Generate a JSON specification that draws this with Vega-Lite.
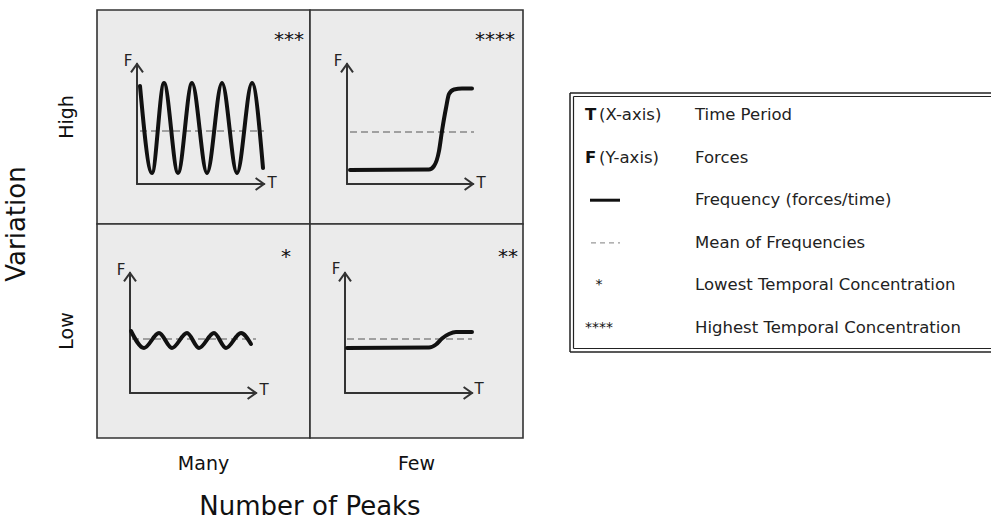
{
  "$schema": "https://vega.github.io/schema/vega-lite/v6.json",
  "padding": {"left": 4, "top": 9, "right": 0, "bottom": 0},
  "background": "white",
  "config": {"font": "DejaVu Sans", "view": {"stroke": null}, "text": {"font": "DejaVu Sans"}},
  "datasets": {
    "panels": [
      {"peaks":"Many","variation":"High","kind":"axis","x":40,"y":54,"x2":40,"y2":174},
      {"peaks":"Many","variation":"High","kind":"axis","x":40,"y":174,"x2":167,"y2":174},
      {"peaks":"Many","variation":"High","kind":"tip","x":40,"y":54,"dir":"up"},
      {"peaks":"Many","variation":"High","kind":"tip","x":167,"y":174,"dir":"right"},
      {"peaks":"Many","variation":"High","kind":"label","x":31,"y":51,"text":"F"},
      {"peaks":"Many","variation":"High","kind":"label","x":175,"y":173,"text":"T"},
      {"peaks":"Many","variation":"High","kind":"mean","x":43,"x2":167,"y":121},
      {"peaks":"Many","variation":"High","kind":"stars","x":192,"y":30,"text":"***"},
      {"peaks":"Many","variation":"High","kind":"curve","x":43,"y":76},
      {"peaks":"Many","variation":"High","kind":"curve","x":55,"y":163},
      {"peaks":"Many","variation":"High","kind":"curve","x":67,"y":73},
      {"peaks":"Many","variation":"High","kind":"curve","x":81,"y":163},
      {"peaks":"Many","variation":"High","kind":"curve","x":95,"y":73},
      {"peaks":"Many","variation":"High","kind":"curve","x":110,"y":163},
      {"peaks":"Many","variation":"High","kind":"curve","x":125,"y":73},
      {"peaks":"Many","variation":"High","kind":"curve","x":140,"y":163},
      {"peaks":"Many","variation":"High","kind":"curve","x":155,"y":73},
      {"peaks":"Many","variation":"High","kind":"curve","x":166,"y":158},

      {"peaks":"Few","variation":"High","kind":"axis","x":37,"y":54,"x2":37,"y2":174},
      {"peaks":"Few","variation":"High","kind":"axis","x":37,"y":174,"x2":163,"y2":174},
      {"peaks":"Few","variation":"High","kind":"tip","x":37,"y":54,"dir":"up"},
      {"peaks":"Few","variation":"High","kind":"tip","x":163,"y":174,"dir":"right"},
      {"peaks":"Few","variation":"High","kind":"label","x":28,"y":51,"text":"F"},
      {"peaks":"Few","variation":"High","kind":"label","x":171,"y":173,"text":"T"},
      {"peaks":"Few","variation":"High","kind":"mean","x":40,"x2":164,"y":122},
      {"peaks":"Few","variation":"High","kind":"stars","x":185,"y":30,"text":"****"},
      {"peaks":"Few","variation":"High","kind":"curve","x":40,"y":160},
      {"peaks":"Few","variation":"High","kind":"curve","x":119,"y":159.5},
      {"peaks":"Few","variation":"High","kind":"curve","x":124,"y":156},
      {"peaks":"Few","variation":"High","kind":"curve","x":129,"y":141},
      {"peaks":"Few","variation":"High","kind":"curve","x":132,"y":121},
      {"peaks":"Few","variation":"High","kind":"curve","x":136,"y":98},
      {"peaks":"Few","variation":"High","kind":"curve","x":139,"y":84},
      {"peaks":"Few","variation":"High","kind":"curve","x":144,"y":79.5},
      {"peaks":"Few","variation":"High","kind":"curve","x":152,"y":78.5},
      {"peaks":"Few","variation":"High","kind":"curve","x":162,"y":78.5},

      {"peaks":"Many","variation":"Low","kind":"axis","x":33,"y":49,"x2":33,"y2":169},
      {"peaks":"Many","variation":"Low","kind":"axis","x":33,"y":169,"x2":159,"y2":169},
      {"peaks":"Many","variation":"Low","kind":"tip","x":33,"y":49,"dir":"up"},
      {"peaks":"Many","variation":"Low","kind":"tip","x":159,"y":169,"dir":"right"},
      {"peaks":"Many","variation":"Low","kind":"label","x":24,"y":46,"text":"F"},
      {"peaks":"Many","variation":"Low","kind":"label","x":167,"y":166,"text":"T"},
      {"peaks":"Many","variation":"Low","kind":"mean","x":35,"x2":159,"y":115},
      {"peaks":"Many","variation":"Low","kind":"stars","x":189,"y":33,"text":"*"},
      {"peaks":"Many","variation":"Low","kind":"curve","x":34,"y":107},
      {"peaks":"Many","variation":"Low","kind":"curve","x":47,"y":124},
      {"peaks":"Many","variation":"Low","kind":"curve","x":62,"y":109},
      {"peaks":"Many","variation":"Low","kind":"curve","x":75,"y":124},
      {"peaks":"Many","variation":"Low","kind":"curve","x":90,"y":109},
      {"peaks":"Many","variation":"Low","kind":"curve","x":102,"y":124},
      {"peaks":"Many","variation":"Low","kind":"curve","x":117,"y":109},
      {"peaks":"Many","variation":"Low","kind":"curve","x":129,"y":124},
      {"peaks":"Many","variation":"Low","kind":"curve","x":144,"y":109},
      {"peaks":"Many","variation":"Low","kind":"curve","x":154,"y":120},

      {"peaks":"Few","variation":"Low","kind":"axis","x":35,"y":49,"x2":35,"y2":169},
      {"peaks":"Few","variation":"Low","kind":"axis","x":35,"y":169,"x2":162,"y2":169},
      {"peaks":"Few","variation":"Low","kind":"tip","x":35,"y":49,"dir":"up"},
      {"peaks":"Few","variation":"Low","kind":"tip","x":162,"y":169,"dir":"right"},
      {"peaks":"Few","variation":"Low","kind":"label","x":26,"y":45,"text":"F"},
      {"peaks":"Few","variation":"Low","kind":"label","x":169,"y":165,"text":"T"},
      {"peaks":"Few","variation":"Low","kind":"mean","x":37,"x2":162,"y":115},
      {"peaks":"Few","variation":"Low","kind":"stars","x":198,"y":33,"text":"**"},
      {"peaks":"Few","variation":"Low","kind":"curve","x":37,"y":124},
      {"peaks":"Few","variation":"Low","kind":"curve","x":119,"y":123.5},
      {"peaks":"Few","variation":"Low","kind":"curve","x":126,"y":120.5},
      {"peaks":"Few","variation":"Low","kind":"curve","x":132,"y":114.5},
      {"peaks":"Few","variation":"Low","kind":"curve","x":139,"y":110},
      {"peaks":"Few","variation":"Low","kind":"curve","x":146,"y":108},
      {"peaks":"Few","variation":"Low","kind":"curve","x":162,"y":108}
    ],
    "legend": [
      {"row":0,"key":"T","paren":"(X-axis)","desc":"Time Period"},
      {"row":1,"key":"F","paren":"(Y-axis)","desc":"Forces"},
      {"row":2,"sym":"line","desc":"Frequency (forces/time)"},
      {"row":3,"sym":"dash","desc":"Mean of Frequencies"},
      {"row":4,"sym":"star","star":"*","desc":"Lowest Temporal Concentration"},
      {"row":5,"sym":"star","star":"****","desc":"Highest Temporal Concentration"}
    ]
  },
  "spacing": 44,
  "hconcat": [
    {
      "data": {"name": "panels"},
      "spacing": 0,
      "bounds": "flush",
      "facet": {
        "row": {"field": "variation", "type": "nominal", "sort": ["High", "Low"], "title": "Variation",
          "header": {"labelOrient": "left", "titleOrient": "left", "labelAngle": -90, "labelFontSize": 19, "titleFontSize": 26,
            "titleFontWeight": "normal", "labelPadding": 11, "titlePadding": 17, "labelColor": "#111", "titleColor": "#111",
            "labelFont": "DejaVu Sans", "titleFont": "DejaVu Sans"}},
        "column": {"field": "peaks", "type": "nominal", "sort": ["Many", "Few"], "title": "Number of Peaks",
          "header": {"labelOrient": "bottom", "titleOrient": "bottom", "labelFontSize": 19, "titleFontSize": 26,
            "titleFontWeight": "normal", "labelPadding": 17, "titlePadding": 10, "labelColor": "#111", "titleColor": "#111",
            "labelFont": "DejaVu Sans", "titleFont": "DejaVu Sans"}}
      },
      "spec": {
        "width": 213,
        "height": 214,
        "view": {"fill": "#ebebeb", "stroke": "#333", "strokeWidth": 1.6},
        "encoding": {
          "x": {"field": "x", "type": "quantitative", "scale": {"domain": [0, 213], "nice": false, "zero": false}, "axis": null},
          "y": {"field": "y", "type": "quantitative", "scale": {"domain": [0, 214], "nice": false, "zero": false, "reverse": true}, "axis": null}
        },
        "layer": [
          {"transform": [{"filter": "datum.kind == 'axis'"}],
           "mark": {"type": "rule", "color": "#333", "strokeWidth": 2, "strokeCap": "round"},
           "encoding": {"x2": {"field": "x2"}, "y2": {"field": "y2"}}},
          {"transform": [{"filter": "datum.kind == 'mean'"}],
           "mark": {"type": "rule", "color": "#888", "strokeWidth": 1.5, "strokeDash": [7, 4]},
           "encoding": {"x2": {"field": "x2"}}},
          {"transform": [{"filter": "datum.kind == 'curve'"}],
           "mark": {"type": "line", "color": "#111", "strokeWidth": 4, "interpolate": "monotone", "strokeCap": "round"},
           "encoding": {}},
          {"transform": [{"filter": "datum.kind == 'tip'"}],
           "mark": {"type": "point", "filled": false, "color": "#333", "strokeWidth": 2, "size": 144, "opacity": 1},
           "encoding": {"shape": {"field": "dir", "type": "nominal", "legend": null,
             "scale": {"domain": ["up", "right"], "range": ["M-1,1.4L0,0L1,1.4", "M-1.4,-1L0,0L-1.4,1"]}}}},
          {"transform": [{"filter": "datum.kind == 'label'"}],
           "mark": {"type": "text", "fontSize": 15, "baseline": "middle", "align": "center", "color": "#222"},
           "encoding": {"text": {"field": "text"}}},
          {"transform": [{"filter": "datum.kind == 'stars'"}],
           "mark": {"type": "text", "fontSize": 20, "baseline": "middle", "align": "center", "color": "#111"},
           "encoding": {"text": {"field": "text"}}}
        ]
      }
    },
    {
      "data": {"name": "legend"},
      "width": 423,
      "height": 428,
      "view": {"stroke": null, "fill": null},
      "encoding": {
        "y": {"field": "row", "type": "quantitative", "scale": {"domain": [-2.465, 7.582], "reverse": true, "nice": false, "zero": false}, "axis": null}
      },
      "layer": [
        {"transform": [{"filter": "datum.row == 0"}],
         "mark": {"type": "rule", "color": "#222", "strokeWidth": 1.5},
         "encoding": {"x": {"datum": 0, "type": "quantitative", "scale": {"domain": [-2, 421], "nice": false, "zero": false}, "axis": null},
           "x2": {"datum": 421}, "y": {"datum": -0.516, "type": "quantitative"}}},
        {"transform": [{"filter": "datum.row == 0"}],
         "mark": {"type": "rule", "color": "#222", "strokeWidth": 1.5},
         "encoding": {"x": {"datum": 0, "type": "quantitative"},
           "x2": {"datum": 421}, "y": {"datum": 5.563, "type": "quantitative"}}},
        {"transform": [{"filter": "datum.row == 0"}],
         "mark": {"type": "rule", "color": "#222", "strokeWidth": 1.5},
         "encoding": {"x": {"datum": 0, "type": "quantitative"},
           "y": {"datum": -0.516, "type": "quantitative"}, "y2": {"datum": 5.563}}},
        {"transform": [{"filter": "datum.row == 0"}],
         "mark": {"type": "rule", "color": "#222", "strokeWidth": 1.2},
         "encoding": {"x": {"datum": 3.5, "type": "quantitative"},
           "x2": {"datum": 421}, "y": {"datum": -0.434, "type": "quantitative"}}},
        {"transform": [{"filter": "datum.row == 0"}],
         "mark": {"type": "rule", "color": "#222", "strokeWidth": 1.2},
         "encoding": {"x": {"datum": 3.5, "type": "quantitative"},
           "x2": {"datum": 421}, "y": {"datum": 5.481, "type": "quantitative"}}},
        {"transform": [{"filter": "datum.row == 0"}],
         "mark": {"type": "rule", "color": "#222", "strokeWidth": 1.2},
         "encoding": {"x": {"datum": 3.5, "type": "quantitative"},
           "y": {"datum": -0.434, "type": "quantitative"}, "y2": {"datum": 5.481}}},
        {"transform": [{"filter": "datum.key"}],
         "mark": {"type": "text", "fontWeight": "bold", "align": "left", "baseline": "middle", "fontSize": 16.5, "color": "#111"},
         "encoding": {"x": {"datum": 15, "type": "quantitative"}, "text": {"field": "key"}}},
        {"transform": [{"filter": "datum.paren"}],
         "mark": {"type": "text", "align": "left", "baseline": "middle", "fontSize": 16.5, "color": "#222"},
         "encoding": {"x": {"datum": 29, "type": "quantitative"}, "text": {"field": "paren"}}},
        {"mark": {"type": "text", "align": "left", "baseline": "middle", "fontSize": 16.5, "color": "#222"},
         "encoding": {"x": {"datum": 125, "type": "quantitative"}, "text": {"field": "desc"}}},
        {"transform": [{"filter": "datum.sym == 'line'"}],
         "mark": {"type": "rule", "color": "#111", "strokeWidth": 3},
         "encoding": {"x": {"datum": 20, "type": "quantitative"}, "x2": {"datum": 50}}},
        {"transform": [{"filter": "datum.sym == 'dash'"}],
         "mark": {"type": "rule", "color": "#999", "strokeWidth": 1.2, "strokeDash": [5, 4]},
         "encoding": {"x": {"datum": 21, "type": "quantitative"}, "x2": {"datum": 50}}},
        {"transform": [{"filter": "datum.sym == 'star'"}],
         "mark": {"type": "text", "align": "center", "baseline": "middle", "fontSize": 14, "color": "#111"},
         "encoding": {"x": {"datum": 29, "type": "quantitative"}, "text": {"field": "star"}}}
      ]
    }
  ]
}
